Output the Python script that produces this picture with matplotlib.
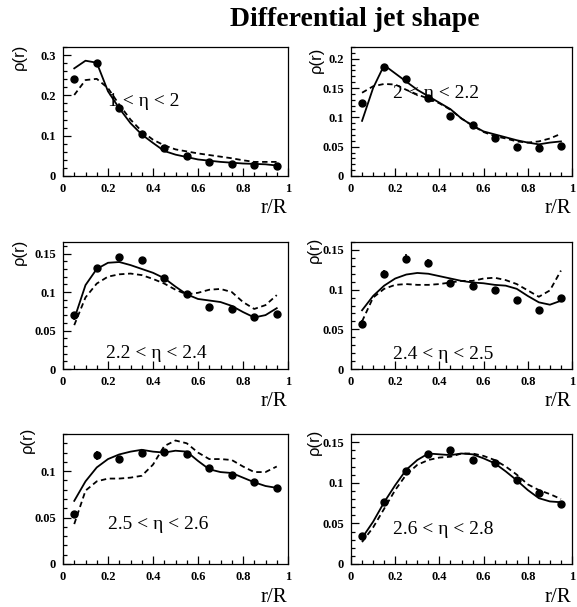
import matplotlib
matplotlib.use("Agg")
import matplotlib.pyplot as plt
from matplotlib.ticker import MultipleLocator, FuncFormatter

plt.rcParams['font.family'] = ['Liberation Serif', 'DejaVu Serif']

# data points, r/R bin centres
r_pts = [0.05, 0.15, 0.25, 0.35, 0.45, 0.55, 0.65, 0.75, 0.85, 0.95]
# curve sample positions
r_curve = [0.05, 0.1, 0.15, 0.2, 0.25, 0.3, 0.35, 0.4, 0.45, 0.5,
           0.55, 0.6, 0.65, 0.7, 0.75, 0.8, 0.85, 0.9, 0.95]

labels = ["1 < η < 2", "2 < η < 2.2", "2.2 < η < 2.4",
          "2.4 < η < 2.5", "2.5 < η < 2.6", "2.6 < η < 2.8"]

# panel 1 : 1 < eta < 2
pts1 = [0.24, 0.281, 0.168, 0.103, 0.07, 0.049, 0.035, 0.031, 0.027, 0.025]
sol1 = [0.267, 0.286, 0.281, 0.21, 0.168, 0.131, 0.103, 0.082, 0.062, 0.053,
        0.047, 0.041, 0.038, 0.035, 0.033, 0.031, 0.03, 0.029, 0.026]
dash1 = [0.201, 0.238, 0.241, 0.218, 0.177, 0.14, 0.111, 0.09, 0.076, 0.066,
         0.061, 0.056, 0.052, 0.048, 0.044, 0.039, 0.035, 0.035, 0.035]
err1 = [0, 0, 0, 0, 0, 0, 0, 0, 0, 0]

# panel 2 : 2 < eta < 2.2
pts2 = [0.124, 0.186, 0.166, 0.133, 0.102, 0.087, 0.064, 0.05, 0.047, 0.052]
sol2 = [0.094, 0.15, 0.189, 0.175, 0.161, 0.147, 0.136, 0.125, 0.114, 0.098,
        0.086, 0.076, 0.071, 0.066, 0.061, 0.057, 0.054, 0.057, 0.059]
dash2 = [0.142, 0.153, 0.157, 0.156, 0.147, 0.139, 0.132, 0.124, 0.113, 0.098,
         0.086, 0.075, 0.068, 0.064, 0.059, 0.057, 0.059, 0.064, 0.072]
err2 = [0, 0, 0, 0, 0, 0, 0, 0, 0, 0]

# panel 3 : 2.2 < eta < 2.4
pts3 = [0.07, 0.131, 0.146, 0.141, 0.118, 0.097, 0.081, 0.078, 0.067, 0.072]
sol3 = [0.065, 0.109, 0.13, 0.138, 0.139, 0.135, 0.13, 0.125, 0.118, 0.107,
        0.097, 0.091, 0.089, 0.087, 0.082, 0.074, 0.067, 0.07, 0.079]
dash3 = [0.057, 0.093, 0.111, 0.12, 0.123, 0.124, 0.122, 0.117, 0.111, 0.103,
         0.097, 0.099, 0.103, 0.104, 0.1, 0.087, 0.078, 0.083, 0.096]
err3 = [0, 0, 0, 0.004, 0, 0, 0, 0, 0, 0]

# panel 4 : 2.4 < eta < 2.5
pts4 = [0.057, 0.12, 0.139, 0.134, 0.108, 0.104, 0.099, 0.087, 0.074, 0.089]
sol4 = [0.074, 0.092, 0.105, 0.114, 0.119, 0.121, 0.12, 0.117, 0.114, 0.111,
        0.109, 0.108, 0.106, 0.105, 0.101, 0.092, 0.084, 0.081, 0.086]
dash4 = [0.06, 0.09, 0.101, 0.106, 0.107, 0.106, 0.106, 0.107, 0.109, 0.111,
         0.111, 0.114, 0.115, 0.112, 0.107, 0.099, 0.091, 0.099, 0.124]
err4 = [0.005, 0.005, 0.006, 0.005, 0, 0, 0, 0, 0, 0]

# panel 5 : 2.5 < eta < 2.6
pts5 = [0.054, 0.117, 0.113, 0.12, 0.121, 0.119, 0.103, 0.096, 0.088, 0.082]
sol5 = [0.068, 0.089, 0.104, 0.113, 0.118, 0.121, 0.123, 0.121, 0.12, 0.122,
        0.121, 0.111, 0.102, 0.099, 0.098, 0.093, 0.088, 0.084, 0.082]
dash5 = [0.043, 0.079, 0.089, 0.092, 0.092, 0.093, 0.095, 0.107, 0.127, 0.133,
         0.13, 0.12, 0.113, 0.113, 0.112, 0.105, 0.099, 0.099, 0.105]
err5 = [0.003, 0.005, 0.003, 0, 0, 0, 0, 0, 0, 0]

# panel 6 : 2.6 < eta < 2.8
pts6 = [0.034, 0.076, 0.114, 0.136, 0.14, 0.128, 0.124, 0.103, 0.088, 0.074]
sol6 = [0.032, 0.052, 0.076, 0.097, 0.116, 0.128, 0.136, 0.135, 0.134, 0.136,
        0.135, 0.13, 0.124, 0.114, 0.103, 0.091, 0.081, 0.077, 0.076]
dash6 = [0.027, 0.045, 0.068, 0.091, 0.11, 0.122, 0.128, 0.131, 0.132, 0.136,
         0.136, 0.133, 0.128, 0.12, 0.11, 0.098, 0.091, 0.086, 0.08]
err6 = [0, 0, 0, 0, 0, 0, 0, 0, 0, 0]

ylims = [0.32, 0.22, 0.165, 0.16, 0.14, 0.16]
ymajor = [0.1, 0.05, 0.05, 0.05, 0.05, 0.05]

panels = [(pts1, sol1, dash1, err1), (pts2, sol2, dash2, err2),
          (pts3, sol3, dash3, err3), (pts4, sol4, dash4, err4),
          (pts5, sol5, dash5, err5), (pts6, sol6, dash6, err6)]

# label placement (data coords, left edge of text)
lab_pos = [(0.2, 0.186), (0.19, 0.14), (0.19, 0.02), (0.19, 0.018),
           (0.2, 0.043), (0.19, 0.042)]

W, H = 577, 607
fig = plt.figure(figsize=(W / 100, H / 100), dpi=100)

cols = [(63, 225), (351, 221)]
rows = [(47, 176), (242, 369), (434, 564)]
# pixel centres of the rho(r) axis titles
rho_pos = [(19, 57), (316, 60), (19, 252), (314, 250), (27, 440), (314, 442)]

fig.text(355 / W, 1 - 19 / H, "Differential jet shape", ha='center', va='center',
         fontsize=20, fontweight='bold')

fmt = FuncFormatter(lambda v, p: "%g" % round(v, 3))

for i, (pts, sol, dash, err) in enumerate(panels):
    row, col = divmod(i, 2)
    x0, w = cols[col]
    top, bot = rows[row]
    ax = fig.add_axes([x0 / W, 1 - bot / H, w / W, (bot - top) / H])

    ax.plot(r_curve, sol, color='black', lw=1.3)
    ax.plot(r_curve, dash, color='black', lw=1.3, linestyle=(0, (3, 2)))
    ax.errorbar(r_pts, pts, yerr=err, fmt='o', color='black', ms=5,
                elinewidth=1.2, capsize=0)

    ax.set_xlim(0, 1)
    ax.set_ylim(0, ylims[i])
    ax.xaxis.set_major_locator(MultipleLocator(0.2))
    ax.xaxis.set_minor_locator(MultipleLocator(0.05))
    ax.yaxis.set_major_locator(MultipleLocator(ymajor[i]))
    ax.yaxis.set_minor_locator(MultipleLocator(ymajor[i] / 5))
    ax.xaxis.set_major_formatter(fmt)
    ax.yaxis.set_major_formatter(fmt)
    ax.tick_params(which='both', direction='in', top=False, right=False,
                   labelsize=9, width=0.9)
    ax.tick_params(which='major', length=6, pad=5)
    ax.tick_params(which='minor', length=3)
    for lab in ax.get_xticklabels() + ax.get_yticklabels():
        lab.set_fontweight('bold')
    for s in ax.spines.values():
        s.set_linewidth(0.9)

    lx, ly = lab_pos[i]
    ax.text(lx, ly, labels[i], fontsize=14, ha='left', va='center')

    # axis titles
    px, py = rho_pos[i]
    fig.text(px / W, 1 - py / H, "ρ(r)", rotation=90, ha='center',
             va='center', fontsize=12, family=['Liberation Sans', 'DejaVu Sans'])
    ax.text(1 - 14 / w, -33 / (bot - top), "r/R", transform=ax.transAxes,
            ha='center', va='center', fontsize=15)

fig.savefig("out.png", dpi=100)
